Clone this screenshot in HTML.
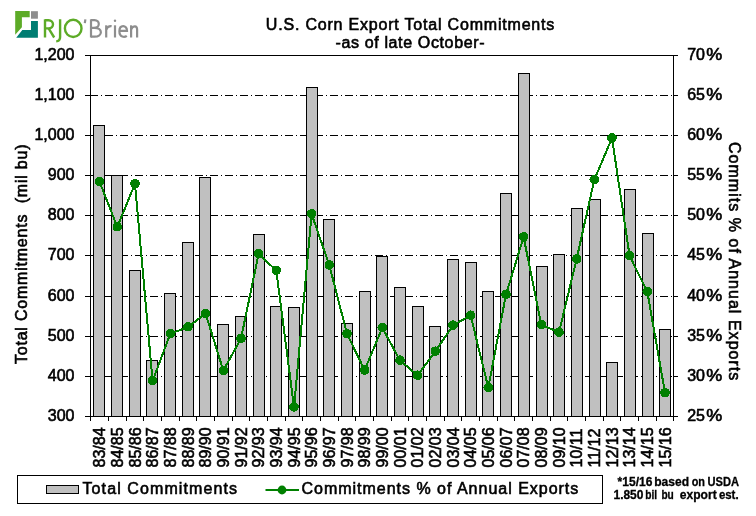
<!DOCTYPE html>
<html><head><meta charset="utf-8"><title>U.S. Corn Export Total Commitments</title>
<style>
html,body{margin:0;padding:0;background:#fff;}
body{width:756px;height:516px;overflow:hidden;position:relative;}
svg{position:absolute;left:0;top:0;display:block;will-change:transform;}
text{font-family:"Liberation Sans",sans-serif;fill:#000;stroke:#000;stroke-width:0.6px;}
.ax{font-size:16px;}
.ce{shape-rendering:crispEdges;}
</style></head><body>
<svg width="756" height="516" viewBox="0 0 756 516">
<rect x="0" y="0" width="756" height="516" fill="#fff"/>

<g class="ce" stroke="#000" stroke-width="1" fill="none">
<line x1="90" y1="95.5" x2="673" y2="95.5" stroke-dasharray="8 3 1 3"/>
<line x1="90" y1="135.5" x2="673" y2="135.5" stroke-dasharray="8 3 1 3"/>
<line x1="90" y1="175.5" x2="673" y2="175.5" stroke-dasharray="8 3 1 3"/>
<line x1="90" y1="215.5" x2="673" y2="215.5" stroke-dasharray="8 3 1 3"/>
<line x1="90" y1="255.5" x2="673" y2="255.5" stroke-dasharray="8 3 1 3"/>
<line x1="90" y1="296.5" x2="673" y2="296.5" stroke-dasharray="8 3 1 3"/>
<line x1="90" y1="336.5" x2="673" y2="336.5" stroke-dasharray="8 3 1 3"/>
<line x1="90" y1="376.5" x2="673" y2="376.5" stroke-dasharray="8 3 1 3"/>
</g>
<g class="ce" stroke="#000" stroke-width="1" fill="#c0c0c0">
<rect x="93.5" y="125.5" width="11.0" height="291.0"/>
<rect x="111.5" y="175.5" width="11.0" height="241.0"/>
<rect x="129.5" y="270.5" width="11.0" height="146.0"/>
<rect x="146.5" y="360.5" width="11.0" height="56.0"/>
<rect x="164.5" y="293.5" width="11.0" height="123.0"/>
<rect x="182.5" y="242.5" width="11.0" height="174.0"/>
<rect x="199.5" y="177.5" width="11.0" height="239.0"/>
<rect x="217.5" y="324.5" width="11.0" height="92.0"/>
<rect x="235.5" y="316.5" width="11.0" height="100.0"/>
<rect x="253.5" y="234.5" width="11.0" height="182.0"/>
<rect x="270.5" y="306.5" width="11.0" height="110.0"/>
<rect x="288.5" y="307.5" width="11.0" height="109.0"/>
<rect x="306.5" y="87.5" width="11.0" height="329.0"/>
<rect x="323.5" y="219.5" width="11.0" height="197.0"/>
<rect x="341.5" y="323.5" width="11.0" height="93.0"/>
<rect x="359.5" y="291.5" width="11.0" height="125.0"/>
<rect x="376.5" y="256.5" width="11.0" height="160.0"/>
<rect x="394.5" y="287.5" width="11.0" height="129.0"/>
<rect x="412.5" y="306.5" width="11.0" height="110.0"/>
<rect x="429.5" y="326.5" width="11.0" height="90.0"/>
<rect x="447.5" y="259.5" width="11.0" height="157.0"/>
<rect x="465.5" y="262.5" width="11.0" height="154.0"/>
<rect x="482.5" y="291.5" width="11.0" height="125.0"/>
<rect x="500.5" y="193.5" width="11.0" height="223.0"/>
<rect x="518.5" y="73.5" width="11.0" height="343.0"/>
<rect x="536.5" y="266.5" width="11.0" height="150.0"/>
<rect x="553.5" y="254.5" width="11.0" height="162.0"/>
<rect x="571.5" y="208.5" width="11.0" height="208.0"/>
<rect x="589.5" y="199.5" width="11.0" height="217.0"/>
<rect x="606.5" y="362.5" width="11.0" height="54.0"/>
<rect x="624.5" y="189.5" width="11.0" height="227.0"/>
<rect x="642.5" y="233.5" width="11.0" height="183.0"/>
<rect x="659.5" y="329.5" width="11.0" height="87.0"/>
</g>
<g class="ce" stroke="#000" stroke-width="1" fill="none">
<line x1="85" y1="55.5" x2="678" y2="55.5"/>
<line x1="85" y1="416.5" x2="678" y2="416.5"/>
<line x1="90.5" y1="55" x2="90.5" y2="421"/>
<line x1="673.5" y1="55" x2="673.5" y2="421"/>
<line x1="85" y1="95.5" x2="90" y2="95.5"/>
<line x1="673" y1="95.5" x2="678" y2="95.5"/>
<line x1="85" y1="135.5" x2="90" y2="135.5"/>
<line x1="673" y1="135.5" x2="678" y2="135.5"/>
<line x1="85" y1="175.5" x2="90" y2="175.5"/>
<line x1="673" y1="175.5" x2="678" y2="175.5"/>
<line x1="85" y1="215.5" x2="90" y2="215.5"/>
<line x1="673" y1="215.5" x2="678" y2="215.5"/>
<line x1="85" y1="255.5" x2="90" y2="255.5"/>
<line x1="673" y1="255.5" x2="678" y2="255.5"/>
<line x1="85" y1="296.5" x2="90" y2="296.5"/>
<line x1="673" y1="296.5" x2="678" y2="296.5"/>
<line x1="85" y1="336.5" x2="90" y2="336.5"/>
<line x1="673" y1="336.5" x2="678" y2="336.5"/>
<line x1="85" y1="376.5" x2="90" y2="376.5"/>
<line x1="673" y1="376.5" x2="678" y2="376.5"/>
<line x1="108.5" y1="416.5" x2="108.5" y2="421"/>
<line x1="126.5" y1="416.5" x2="126.5" y2="421"/>
<line x1="143.5" y1="416.5" x2="143.5" y2="421"/>
<line x1="161.5" y1="416.5" x2="161.5" y2="421"/>
<line x1="179.5" y1="416.5" x2="179.5" y2="421"/>
<line x1="196.5" y1="416.5" x2="196.5" y2="421"/>
<line x1="214.5" y1="416.5" x2="214.5" y2="421"/>
<line x1="232.5" y1="416.5" x2="232.5" y2="421"/>
<line x1="249.5" y1="416.5" x2="249.5" y2="421"/>
<line x1="267.5" y1="416.5" x2="267.5" y2="421"/>
<line x1="285.5" y1="416.5" x2="285.5" y2="421"/>
<line x1="302.5" y1="416.5" x2="302.5" y2="421"/>
<line x1="320.5" y1="416.5" x2="320.5" y2="421"/>
<line x1="338.5" y1="416.5" x2="338.5" y2="421"/>
<line x1="355.5" y1="416.5" x2="355.5" y2="421"/>
<line x1="373.5" y1="416.5" x2="373.5" y2="421"/>
<line x1="391.5" y1="416.5" x2="391.5" y2="421"/>
<line x1="408.5" y1="416.5" x2="408.5" y2="421"/>
<line x1="426.5" y1="416.5" x2="426.5" y2="421"/>
<line x1="444.5" y1="416.5" x2="444.5" y2="421"/>
<line x1="461.5" y1="416.5" x2="461.5" y2="421"/>
<line x1="479.5" y1="416.5" x2="479.5" y2="421"/>
<line x1="497.5" y1="416.5" x2="497.5" y2="421"/>
<line x1="514.5" y1="416.5" x2="514.5" y2="421"/>
<line x1="532.5" y1="416.5" x2="532.5" y2="421"/>
<line x1="550.5" y1="416.5" x2="550.5" y2="421"/>
<line x1="567.5" y1="416.5" x2="567.5" y2="421"/>
<line x1="585.5" y1="416.5" x2="585.5" y2="421"/>
<line x1="603.5" y1="416.5" x2="603.5" y2="421"/>
<line x1="620.5" y1="416.5" x2="620.5" y2="421"/>
<line x1="638.5" y1="416.5" x2="638.5" y2="421"/>
<line x1="656.5" y1="416.5" x2="656.5" y2="421"/>
</g>
<polyline points="99.6,181.8 117.3,226.9 135.0,183.8 152.6,380.9 170.3,333.8 188.0,327.0 205.6,313.6 223.3,370.6 241.0,338.5 258.6,253.9 276.3,270.5 294.0,407.1 311.6,214.0 329.3,265.1 347.0,333.8 364.6,370.2 382.3,327.7 400.0,360.4 417.6,375.4 435.3,351.4 453.0,325.3 470.6,315.4 488.3,387.7 506.0,294.5 523.6,237.0 541.3,324.8 559.0,332.3 576.6,259.1 594.3,179.7 612.0,138.1 629.6,255.8 647.3,291.7 665.0,392.8" fill="none" stroke="#008000" stroke-width="2" stroke-linejoin="round" class="ce"/>
<g fill="#008000" class="ce">
<circle cx="99.6" cy="181.6" r="4.8"/>
<circle cx="117.3" cy="226.7" r="4.8"/>
<circle cx="135.0" cy="183.6" r="4.8"/>
<circle cx="152.6" cy="380.7" r="4.8"/>
<circle cx="170.3" cy="333.6" r="4.8"/>
<circle cx="188.0" cy="326.8" r="4.8"/>
<circle cx="205.6" cy="313.4" r="4.8"/>
<circle cx="223.3" cy="370.4" r="4.8"/>
<circle cx="241.0" cy="338.3" r="4.8"/>
<circle cx="258.6" cy="253.7" r="4.8"/>
<circle cx="276.3" cy="270.3" r="4.8"/>
<circle cx="294.0" cy="406.9" r="4.8"/>
<circle cx="311.6" cy="213.8" r="4.8"/>
<circle cx="329.3" cy="264.9" r="4.8"/>
<circle cx="347.0" cy="333.6" r="4.8"/>
<circle cx="364.6" cy="370.0" r="4.8"/>
<circle cx="382.3" cy="327.5" r="4.8"/>
<circle cx="400.0" cy="360.2" r="4.8"/>
<circle cx="417.6" cy="375.2" r="4.8"/>
<circle cx="435.3" cy="351.2" r="4.8"/>
<circle cx="453.0" cy="325.1" r="4.8"/>
<circle cx="470.6" cy="315.2" r="4.8"/>
<circle cx="488.3" cy="387.5" r="4.8"/>
<circle cx="506.0" cy="294.3" r="4.8"/>
<circle cx="523.6" cy="236.8" r="4.8"/>
<circle cx="541.3" cy="324.6" r="4.8"/>
<circle cx="559.0" cy="332.1" r="4.8"/>
<circle cx="576.6" cy="258.9" r="4.8"/>
<circle cx="594.3" cy="179.5" r="4.8"/>
<circle cx="612.0" cy="137.9" r="4.8"/>
<circle cx="629.6" cy="255.6" r="4.8"/>
<circle cx="647.3" cy="291.5" r="4.8"/>
<circle cx="665.0" cy="392.6" r="4.8"/>
</g>
<text class="ax" x="74.5" y="60.0" text-anchor="end">1,200</text>
<text class="ax" x="74.5" y="100.0" text-anchor="end">1,100</text>
<text class="ax" x="74.5" y="140.0" text-anchor="end">1,000</text>
<text class="ax" x="74.5" y="180.0" text-anchor="end">900</text>
<text class="ax" x="74.5" y="220.0" text-anchor="end">800</text>
<text class="ax" x="74.5" y="260.0" text-anchor="end">700</text>
<text class="ax" x="74.5" y="301.0" text-anchor="end">600</text>
<text class="ax" x="74.5" y="341.0" text-anchor="end">500</text>
<text class="ax" x="74.5" y="381.0" text-anchor="end">400</text>
<text class="ax" x="74.5" y="421.0" text-anchor="end">300</text>
<text class="ax" x="687.2" y="60.1">70</text><text class="ax" x="706.2" y="60.1" textLength="16" lengthAdjust="spacingAndGlyphs">%</text>
<text class="ax" x="687.2" y="100.1">65</text><text class="ax" x="706.2" y="100.1" textLength="16" lengthAdjust="spacingAndGlyphs">%</text>
<text class="ax" x="687.2" y="140.1">60</text><text class="ax" x="706.2" y="140.1" textLength="16" lengthAdjust="spacingAndGlyphs">%</text>
<text class="ax" x="687.2" y="180.1">55</text><text class="ax" x="706.2" y="180.1" textLength="16" lengthAdjust="spacingAndGlyphs">%</text>
<text class="ax" x="687.2" y="220.1">50</text><text class="ax" x="706.2" y="220.1" textLength="16" lengthAdjust="spacingAndGlyphs">%</text>
<text class="ax" x="687.2" y="260.1">45</text><text class="ax" x="706.2" y="260.1" textLength="16" lengthAdjust="spacingAndGlyphs">%</text>
<text class="ax" x="687.2" y="301.1">40</text><text class="ax" x="706.2" y="301.1" textLength="16" lengthAdjust="spacingAndGlyphs">%</text>
<text class="ax" x="687.2" y="341.1">35</text><text class="ax" x="706.2" y="341.1" textLength="16" lengthAdjust="spacingAndGlyphs">%</text>
<text class="ax" x="687.2" y="381.1">30</text><text class="ax" x="706.2" y="381.1" textLength="16" lengthAdjust="spacingAndGlyphs">%</text>
<text class="ax" x="687.2" y="421.1">25</text><text class="ax" x="706.2" y="421.1" textLength="16" lengthAdjust="spacingAndGlyphs">%</text>
<text class="ax" transform="translate(105.3,467.5) rotate(-90)">83/84</text>
<text class="ax" transform="translate(123.0,467.5) rotate(-90)">84/85</text>
<text class="ax" transform="translate(140.7,467.5) rotate(-90)">85/86</text>
<text class="ax" transform="translate(158.3,467.5) rotate(-90)">86/87</text>
<text class="ax" transform="translate(176.0,467.5) rotate(-90)">87/88</text>
<text class="ax" transform="translate(193.7,467.5) rotate(-90)">88/89</text>
<text class="ax" transform="translate(211.3,467.5) rotate(-90)">89/90</text>
<text class="ax" transform="translate(229.0,467.5) rotate(-90)">90/91</text>
<text class="ax" transform="translate(246.7,467.5) rotate(-90)">91/92</text>
<text class="ax" transform="translate(264.3,467.5) rotate(-90)">92/93</text>
<text class="ax" transform="translate(282.0,467.5) rotate(-90)">93/94</text>
<text class="ax" transform="translate(299.7,467.5) rotate(-90)">94/95</text>
<text class="ax" transform="translate(317.3,467.5) rotate(-90)">95/96</text>
<text class="ax" transform="translate(335.0,467.5) rotate(-90)">96/97</text>
<text class="ax" transform="translate(352.7,467.5) rotate(-90)">97/98</text>
<text class="ax" transform="translate(370.3,467.5) rotate(-90)">98/99</text>
<text class="ax" transform="translate(388.0,467.5) rotate(-90)">99/00</text>
<text class="ax" transform="translate(405.7,467.5) rotate(-90)">00/01</text>
<text class="ax" transform="translate(423.3,467.5) rotate(-90)">01/02</text>
<text class="ax" transform="translate(441.0,467.5) rotate(-90)">02/03</text>
<text class="ax" transform="translate(458.7,467.5) rotate(-90)">03/04</text>
<text class="ax" transform="translate(476.3,467.5) rotate(-90)">04/05</text>
<text class="ax" transform="translate(494.0,467.5) rotate(-90)">05/06</text>
<text class="ax" transform="translate(511.7,467.5) rotate(-90)">06/07</text>
<text class="ax" transform="translate(529.3,467.5) rotate(-90)">07/08</text>
<text class="ax" transform="translate(547.0,467.5) rotate(-90)">08/09</text>
<text class="ax" transform="translate(564.7,467.5) rotate(-90)">09/10</text>
<text class="ax" transform="translate(582.3,467.5) rotate(-90)">10/11</text>
<text class="ax" transform="translate(600.0,467.5) rotate(-90)">11/12</text>
<text class="ax" transform="translate(617.7,467.5) rotate(-90)">12/13</text>
<text class="ax" transform="translate(635.3,467.5) rotate(-90)">13/14</text>
<text class="ax" transform="translate(653.0,467.5) rotate(-90)">14/15</text>
<text class="ax" transform="translate(670.7,467.5) rotate(-90)">15/16</text>
<text id="t1" x="265.8" y="29.8" font-size="16" textLength="288.5" lengthAdjust="spacing">U.S. Corn Export Total Commitments</text>
<text id="t2" x="335.5" y="48.2" font-size="16" textLength="149" lengthAdjust="spacing">-as of late October-</text>
<text id="yl" font-size="16" transform="translate(27,364) rotate(-90)" textLength="219.5" lengthAdjust="spacing" xml:space="preserve">Total Commitments  (mil bu)</text>
<text id="yr" font-size="16" transform="translate(729,142) rotate(90)" textLength="238.3" lengthAdjust="spacing">Commits % of Annual Exports</text>
<g class="ce" stroke="#000" stroke-width="1"><rect x="17.5" y="475.5" width="585" height="28" fill="#fff"/>
<rect x="46.5" y="485.5" width="32" height="8" fill="#c0c0c0"/></g>
<text id="l1" x="82.5" y="494.2" font-size="16" textLength="154.5" lengthAdjust="spacing">Total Commitments</text>
<line x1="265.5" y1="490" x2="299" y2="490" stroke="#008000" stroke-width="2"/>
<circle cx="282" cy="490" r="4.4" fill="#008000"/>
<text id="l2" x="301.5" y="494.2" font-size="16" textLength="276.8" lengthAdjust="spacing">Commitments % of Annual Exports</text>
<text x="617.6" y="486.0" font-size="12" font-weight="bold" style="stroke-width:0.3px" textLength="34.8" lengthAdjust="spacingAndGlyphs">*15/16</text>
<text x="654.2" y="486.0" font-size="12" font-weight="bold" style="stroke-width:0.3px" textLength="34.8" lengthAdjust="spacingAndGlyphs">based</text>
<text x="691.7" y="486.0" font-size="12" font-weight="bold" style="stroke-width:0.3px" textLength="13.3" lengthAdjust="spacingAndGlyphs">on</text>
<text x="707.5" y="486.0" font-size="12" font-weight="bold" style="stroke-width:0.3px" textLength="31.5" lengthAdjust="spacingAndGlyphs">USDA</text>
<text x="613.5" y="498.7" font-size="12" font-weight="bold" style="stroke-width:0.3px" textLength="29.9" lengthAdjust="spacingAndGlyphs">1.850</text>
<text x="645.3" y="498.7" font-size="12" font-weight="bold" style="stroke-width:0.3px" textLength="11.9" lengthAdjust="spacingAndGlyphs">bil</text>
<text x="661.4" y="498.7" font-size="12" font-weight="bold" style="stroke-width:0.3px" textLength="12.4" lengthAdjust="spacingAndGlyphs">bu</text>
<text x="679.8" y="498.7" font-size="12" font-weight="bold" style="stroke-width:0.3px" textLength="36.9" lengthAdjust="spacingAndGlyphs">export</text>
<text x="718.9" y="498.7" font-size="12" font-weight="bold" style="stroke-width:0.3px" textLength="19.7" lengthAdjust="spacingAndGlyphs">est.</text>
<g id="logo">
<polygon points="15.2,11 29.7,11 29.7,17.3 21.9,17.3 21.9,27.2 15.2,34.8" fill="#5dab27"/>
<rect x="31" y="11.2" width="6.9" height="7.5" fill="#8e8e8e"/>
<polygon points="31,20.9 37.9,20.9 37.9,37.7 16.2,37.7 22.3,30 31,30" fill="#007d72"/>
<g fill="none" stroke="#5dab27" stroke-width="2.4">
<path d="M45,19.3 V37.5"/>
<path d="M45,20.2 H48.5 C54.5,20.2 54.5,28.4 48.5,28.4 H45"/>
<path d="M48.6,28.4 L54.2,37.5"/>
<path d="M60.1,19.3 V37 C60.1,40 58.4,41.2 56.2,41.4"/>
<ellipse cx="73.2" cy="28.4" rx="8.3" ry="8.6"/>
</g>
<g fill="none" stroke="#8e8e8e" stroke-width="2.2">
<path d="M85.4,19.3 L84.8,23.2"/>
<path d="M91,19.3 V37.5"/>
<path d="M91,20.2 H94.5 C100.2,20.2 100.2,27.8 94.5,27.8 H91"/>
<path d="M94.5,27.8 C103,27.8 103,36.7 94.5,36.7 H91"/>
<path d="M106.2,25.3 V37.5"/>
<path d="M106.2,29.5 C107.2,27 109.2,25.9 111.6,26.2"/>
<path d="M115.0,25.3 V37.5"/>
<path d="M119.4,30.8 H127 C127,24.6 119.4,24.4 119.4,31.2 C119.4,37.6 124.7,37.4 126.8,35.8"/>
<path d="M131.1,25.3 V37.5"/>
<path d="M131.1,29.2 C133.4,25.2 137.1,25.4 137.1,29.5 V37.5"/>
</g>
<circle cx="115.0" cy="20.7" r="1.2" fill="#8e8e8e"/>
</g>
</svg></body></html>
